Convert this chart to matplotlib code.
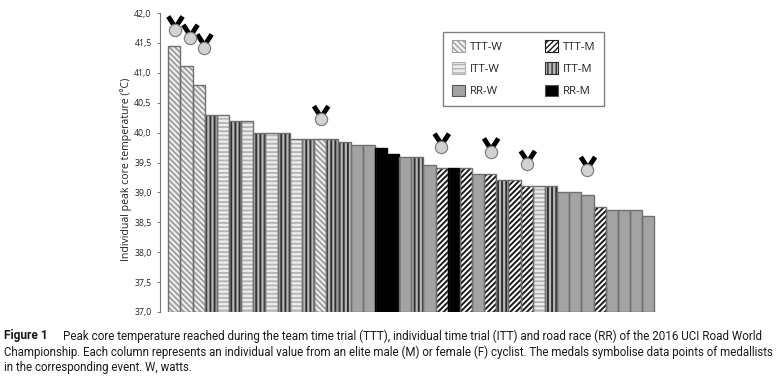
import matplotlib
matplotlib.use('Agg')
import matplotlib.pyplot as plt
from matplotlib.patches import Patch

plt.rcParams['font.family'] = ['Open Sans', 'DejaVu Sans']

# Bars, left to right
events = ['TTT-W', 'TTT-W', 'TTT-W', 'ITT-M', 'ITT-W', 'ITT-M', 'ITT-W', 'ITT-M', 'ITT-W', 'ITT-M',
          'ITT-W', 'ITT-M', 'TTT-W', 'ITT-M', 'ITT-M', 'RR-W', 'RR-W', 'RR-M', 'RR-M', 'RR-W',
          'ITT-M', 'RR-W', 'TTT-M', 'RR-M', 'TTT-M', 'RR-W', 'TTT-M', 'ITT-M', 'TTT-M', 'TTT-M',
          'ITT-W', 'ITT-M', 'RR-W', 'RR-W', 'RR-W', 'TTT-M', 'RR-W', 'RR-W', 'RR-W', 'RR-W']
temps = [41.45, 41.12, 40.8, 40.3, 40.3, 40.2, 40.2, 40.0, 40.0, 40.0,
         39.9, 39.9, 39.9, 39.9, 39.85, 39.8, 39.8, 39.75, 39.65, 39.6,
         39.6, 39.45, 39.4, 39.4, 39.4, 39.3, 39.3, 39.2, 39.2, 39.1,
         39.1, 39.1, 39.0, 39.0, 38.95, 38.75, 38.7, 38.7, 38.7, 38.6]

# Medals, in bar position / temperature
medal_x = [0.05, 1.29, 2.44, 12.04, 21.97, 26.03, 29.05, 34.0]
medal_y = [41.72, 41.58, 41.42, 40.22, 39.76, 39.68, 39.47, 39.37]

y_ticks = [37.0, 37.5, 38.0, 38.5, 39.0, 39.5, 40.0, 40.5, 41.0, 41.5, 42.0]

# event: fill, hatch, hatch colour, hatch width
styles = {
    'TTT-W': ('#f2f2f2', '\\\\\\\\\\\\', '#a0a0a0', 1.4),
    'TTT-M': ('white', '//////', '#1a1a1a', 1.4),
    'ITT-W': ('#ececec', '----', '#b4b4b4', 1.3),
    'ITT-M': ('#b8b8b8', '||||', '#2e2e2e', 1.4),
    'RR-W': ('#a3a3a3', '', '#a3a3a3', 1.0),
    'RR-M': ('#000000', '', '#000000', 1.0),
}
legend_order = ['TTT-W', 'ITT-W', 'RR-W', 'TTT-M', 'ITT-M', 'RR-M']

W, H = 783, 378
fig = plt.figure(figsize=(W / 100, H / 100), dpi=100)
ax = fig.add_axes([160 / W, 1 - 312 / H, 500 / W, 299 / H])

for i, (ev, t) in enumerate(zip(events, temps)):
    fill, hatch, hcol, hw = styles[ev]
    plt.rcParams['hatch.linewidth'] = hw
    ax.bar(i, t - 37, bottom=37, width=1, color=fill, hatch=hatch, edgecolor=hcol, linewidth=0, zorder=2)
    edge = '#000000' if ev == 'RR-M' else '#707070'
    ax.bar(i, t - 37, bottom=37, width=1, fill=False, edgecolor=edge, linewidth=1.0, zorder=3)

ax.set_xlim(-1.18, 39.97)
ax.set_ylim(37, 42)
ax.set_xticks([])
ax.set_yticks(y_ticks)
ax.set_yticklabels([f'{v:.1f}'.replace('.', ',') for v in y_ticks], fontsize=6.3, color='#222222')
ax.tick_params(axis='y', length=2.2, width=0.7, color='#777777', pad=3.8)
for s in ['top', 'right', 'bottom']:
    ax.spines[s].set_visible(False)
ax.spines['left'].set_color('#777777')
ax.spines['left'].set_linewidth(0.8)
ax.set_ylabel('Individual peak core temperature (ºC)', fontsize=7.6, color='#222222', labelpad=1.2, y=0.4766)

# Medals: ribbon offsets are pixels, scaled to data units
px_x, px_y = 12.15, 59.8
for mx, my in zip(medal_x, medal_y):
    ax.plot([mx - 6.7 / px_x, mx - 0.7 / px_x], [my + 13.3 / px_y, my + 4 / px_y],
            color='black', lw=3.5, solid_capstyle='butt', zorder=4)
    ax.plot([mx + 7.7 / px_x, mx + 2.3 / px_x], [my + 13.3 / px_y, my + 5 / px_y],
            color='black', lw=3.5, solid_capstyle='butt', zorder=4)
    ax.plot([mx], [my], marker='o', ms=8.8, mfc='#d2d2d2', mec='#808080', mew=0.9, zorder=5)

handles = []
for ev in legend_order:
    fill, hatch, hcol, hw = styles[ev]
    plt.rcParams['hatch.linewidth'] = hw
    handles.append(Patch(facecolor=fill, hatch=hatch, edgecolor=hcol if hatch else '#555555', linewidth=0.8, label=ev))
leg = ax.legend(handles=handles, ncol=2, loc='upper left', bbox_to_anchor=(443 / W, 1 - 31.5 / H),
                bbox_transform=fig.transFigure, fontsize=8.2, fancybox=False, framealpha=1,
                edgecolor='#808080', handlelength=1.15, handleheight=1.2, handletextpad=0.45,
                columnspacing=3.7, labelspacing=0.85, borderpad=0.75, borderaxespad=0)
leg.get_frame().set_linewidth(1.0)
for txt in leg.get_texts():
    txt.set_color('#222222')

# Caption
cap = '#1a1a1a'
cap_font = ['Roboto', 'DejaVu Sans']
fig.text(4 / W, 1 - 336 / H, 'Figure 1', fontsize=8.6, fontweight='bold', color=cap, va='center', family=cap_font)
fig.text(63 / W, 1 - 336 / H, 'Peak core temperature reached during the team time trial (TTT), individual time trial (ITT) and road race (RR) of the 2016 UCI Road World',
         fontsize=8.4, color=cap, va='center', family=cap_font)
fig.text(4 / W, 1 - 352 / H, 'Championship. Each column represents an individual value from an elite male (M) or female (F) cyclist. The medals symbolise data points of medallists',
         fontsize=8.3, color=cap, va='center', family=cap_font)
fig.text(4 / W, 1 - 368 / H, 'in the corresponding event. W, watts.', fontsize=8.3, color=cap, va='center', family=cap_font)

fig.savefig('out.png', dpi=100)
